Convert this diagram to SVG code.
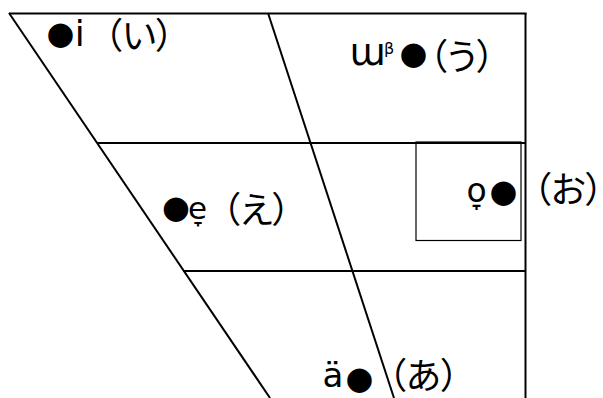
<svg xmlns="http://www.w3.org/2000/svg" width="603" height="398" viewBox="0 0 603 398">
<style>
.ln{fill:none;stroke:#000;stroke-width:2}
.bx{fill:none;stroke:#000;stroke-width:1.2}
.lat{font-family:"DejaVu Sans",sans-serif;fill:#000}
.jp{font-family:"Noto Sans CJK JP",sans-serif;font-size:36px;font-feature-settings:"palt" 1;fill:#000}
.dot{font-family:"DejaVu Sans",sans-serif;font-size:32px;fill:#000}
</style>
<rect width="603" height="398" fill="#fff"/>
<g id="chart">
<path class="ln" d="M9,13.5 H526.5"/>
<path class="ln" d="M525.5,13 V398"/>
<path class="ln" d="M9,13 L270,398"/>
<path class="ln" d="M268,13 L394,398"/>
<path class="ln" d="M97,143 H525"/>
<path class="ln" d="M183,271 H525"/>
<rect class="bx" x="416" y="142" width="105" height="98.5"/>
</g>
<g id="i">
<text class="dot" x="46.5" y="44">●</text>
<text class="lat" x="74.7" y="46" font-size="36">i</text>
<text class="jp" x="104" y="49">（い）</text>
</g>
<g id="u">
<text class="lat" x="349.5" y="65" font-size="37">ɯ</text>
<text class="lat" x="384" y="54" font-size="16">β</text>
<text class="dot" x="399.5" y="64">●</text>
<text class="jp" x="429" y="69.5">（う）</text>
</g>
<g id="e">
<text class="dot" x="162" y="217.5">●</text>
<text class="lat" x="188" y="219" font-size="31">e̞</text>
<text class="jp" x="222" y="222.5">（え）</text>
</g>
<g id="o">
<text class="lat" x="466.5" y="201.7" font-size="33">o̞</text>
<text class="dot" x="489.5" y="202">●</text>
<text class="jp" x="533" y="202.5">（お）</text>
</g>
<g id="a">
<text class="lat" x="322.5" y="386.7" font-size="34">ä</text>
<text class="dot" x="345.5" y="388.5">●</text>
<text class="jp" x="388" y="389">（あ）</text>
</g>
</svg>
